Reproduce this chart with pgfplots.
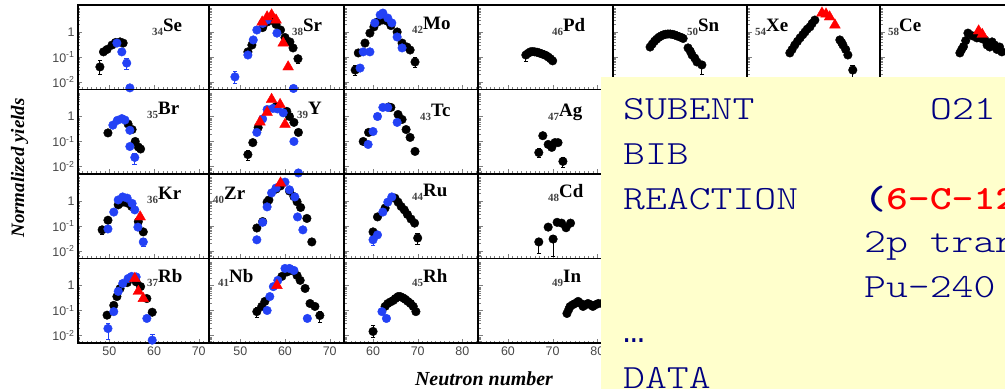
\documentclass[border=0pt]{standalone}
\usepackage{fontspec}
\setmainfont{Liberation Serif}
\newfontfamily\tickfont{Liberation Sans}
\newfontfamily\cour{lmmonolt10-regular.otf}[FakeStretch=1.23]
\newfontfamily\courb{lmmonolt10-bold.otf}[FakeStretch=1.23]
\newfontfamily\libmono{Liberation Mono}
\usepackage{pgfplots}
\pgfplotsset{compat=1.18}
\definecolor{ublue}{RGB}{35,65,245}
\definecolor{boxyellow}{RGB}{255,255,204}
\definecolor{navy}{RGB}{0,0,128}
\pgfplotsset{every axis/.append style={scale only axis, height=84.5bp, ymode=log, ymin=0.005, ymax=12,
    ytick={0.01,0.1,1},
    minor ytick={0.006,0.007,0.008,0.009,0.02,0.03,0.04,0.05,0.06,0.07,0.08,0.09,0.2,0.3,0.4,0.5,0.6,0.7,0.8,0.9,2,3,4,5,6,7,8,9},
    yticklabels={}, xticklabels={}, xtick distance=10,
    tick align=inside, xtick pos=bottom, ytick pos=left,
    axis line style={line width=1.3bp},
    major tick length=4.5bp, minor tick length=2.5bp,
    anchor=north west,
    tick label style={font=\tickfont\fontsize{12.5}{12.5}\selectfont, text=black!72},
  }}
\tikzset{
  zzblk/.style={only marks, mark=*, mark size=4.3bp, black},
  zzblu/.style={only marks, mark=*, mark size=4.3bp, ublue},
  zztri/.style={only marks, mark=triangle*, mark size=6.2bp, red},
}
\newcommand\ebar[4]{\addplot[#1, line width=0.9bp, mark=-, mark size=2.3bp, forget plot] coordinates {(#2,#3) (#2,#4)};}
\newcommand\nuc[4]{\node[anchor=base west, inner sep=0] at (#1bp,#2bp)
  {\bfseries{\fontsize{11}{11}\selectfont\color{black!75}\raisebox{-3.5bp}{#3}}\fontsize{19}{19}\selectfont #4};}
\begin{document}
\begin{tikzpicture}
\useasboundingbox (0,0) rectangle (1005bp,389bp);
% ---------------- Row 1 ----------------
\begin{axis}[width=131bp, xmin=43, xmax=72.3, minor xtick={44,...,72}, yticklabels={10\textsuperscript{-2},10\textsuperscript{-1},1}, at={(78bp,384bp)}]
\ebar{black}{47.9}{0.02}{0.07}
\ebar{ublue}{53.9}{0.032}{0.087}
\addplot[zzblk] coordinates {(47.9,0.04) (48.7,0.16) (49.5,0.2) (50.6,0.3) (51.4,0.38) (52.4,0.4) (53.1,0.36)};
\addplot[zzblu] coordinates {(51.7,0.36) (52.8,0.16) (53.9,0.057) (54.6,0.0058)};
\end{axis}
\begin{axis}[width=135bp, xmin=43, xmax=73.2, minor xtick={44,...,73}, at={(209bp,384bp)}]
\ebar{ublue}{48.8}{0.009}{0.026}
\ebar{black}{62.9}{0.055}{0.115}
\addplot[zzblk] coordinates {(51.7,0.16) (52.6,0.3) (55,1.5) (56,2.5) (57,3) (58,2) (59,1.2) (60,0.6) (61.1,0.4) (61.8,0.23) (62.9,0.085)};
\addplot[zzblu] coordinates {(48.8,0.016) (51.7,0.12) (52.9,0.48) (53.7,1.2) (55,2.2) (56,3) (58.2,0.9) (61.9,0.0055)};
\addplot[zztri] coordinates {(54.9,2.5) (56,4) (57,4.8) (58,3) (59.6,0.36) (60.7,0.04)};
\end{axis}
\begin{axis}[width=134bp, xmin=53.5, xmax=83.5, minor xtick={54,...,83}, at={(344bp,384bp)}]
\ebar{black}{56}{0.018}{0.045}
\ebar{black}{69.4}{0.038}{0.093}
\addplot[zzblk] coordinates {(56,0.03) (56.7,0.145) (58.2,0.36) (59.3,0.9) (60.2,1.6) (61,2.5) (62,3) (63,2.8) (64,1.8) (65.4,1) (66.5,0.36) (67.6,0.25) (68.3,0.19) (69.4,0.063)};
\addplot[zzblu] coordinates {(57.1,0.036) (57.8,0.16) (59.3,0.16) (60.4,2.3) (61.6,4.8) (62.2,5.7) (63.3,3.6) (64.2,2.3) (65.4,0.63) (66.5,0.23)};
\end{axis}
\begin{axis}[width=135bp, xmin=53.3, xmax=83.5, minor xtick={54,...,83}, at={(478bp,384bp)}]
\ebar{black}{64}{0.065}{0.12}
\addplot[zzblk] coordinates {(64,0.12) (64.5,0.14) (65,0.16) (65.5,0.165) (66,0.16) (66.5,0.155) (67,0.145) (67.5,0.135) (68,0.125) (68.5,0.115) (69,0.1) (69.5,0.085) (70,0.07)};
\end{axis}
\begin{axis}[width=134bp, xmin=63.5, xmax=93.5, minor xtick={64,...,93}, at={(613bp,384bp)}]
\ebar{black}{83.4}{0.02}{0.068}
\addplot[zzblk] coordinates {(71.8,0.25) (72.3,0.33) (72.8,0.43) (73.3,0.52) (73.8,0.62) (74.3,0.7) (74.8,0.77) (75.3,0.81) (75.8,0.83) (76.3,0.83) (76.8,0.8) (77.3,0.76) (77.8,0.7) (78.3,0.65) (78.8,0.6) (79.2,0.55) (80.3,0.23) (80.8,0.17) (81.2,0.12) (81.8,0.09) (82.3,0.063) (83.4,0.048)};
\end{axis}
\begin{axis}[width=133bp, xmin=73.5, xmax=103.3, minor xtick={74,...,103}, at={(747bp,384bp)}]
\ebar{black}{97.2}{0.01}{0.045}
\addplot[zzblk] coordinates {(83.1,0.145) (83.6,0.2) (84.2,0.3) (84.8,0.42) (85.4,0.58) (86,0.78) (86.5,1) (87,1.3) (87.6,1.6) (88.1,2.2) (88.7,3) (94.3,0.48) (94.7,0.38) (95,0.3) (95.6,0.2) (96.1,0.12) (97.2,0.03)};
\addplot[zztri] coordinates {(90.3,5.7) (91.2,5.2) (92,4) (93.2,1.9)};
\end{axis}
\begin{axis}[width=133bp, xmin=73.5, xmax=103.3, minor xtick={74,...,103}, at={(880bp,384bp)}]
\addplot[zzblk] coordinates {(91.4,0.145) (91.8,0.2) (92.2,0.26) (92.7,0.45) (93.2,0.9) (94.2,0.7) (95.2,0.58) (96.2,0.55) (97,0.48) (97.5,0.3) (98.1,0.25) (98.6,0.4) (99.2,0.3) (99.7,0.2) (100.3,0.25) (100.8,0.16)};
\addplot[zztri] coordinates {(95.6,1.1) (96.4,0.8)};
\end{axis}
% ---------------- Row 2 ----------------
\begin{axis}[width=131bp, xmin=43, xmax=72.3, minor xtick={44,...,72}, yticklabels={10\textsuperscript{-2},10\textsuperscript{-1},1}, at={(78bp,299.5bp)}]
\ebar{ublue}{55.7}{0.012}{0.033}
\addplot[zzblk] coordinates {(49.7,0.22) (54.2,0.5) (55.1,0.3) (55.8,0.1) (56.5,0.06) (57,0.05)};
\addplot[zzblu] coordinates {(50.8,0.45) (51.8,0.7) (52.8,0.82) (53.5,0.72) (54.6,0.28) (54.6,0.063) (55.7,0.023)};
\end{axis}
\begin{axis}[width=135bp, xmin=43, xmax=73.2, minor xtick={44,...,73}, at={(209bp,299.5bp)}]
\ebar{black}{51.7}{0.017}{0.045}
\addplot[zzblk] coordinates {(51.7,0.03) (52.8,0.09) (54,0.36) (58,2.5) (60.4,1.6) (61,1.0) (62,0.58) (63,0.23)};
\addplot[zzblu] coordinates {(53.7,0.23) (55,0.8) (56,1.9) (57.3,2.1) (58.3,2.0) (59.6,1.4) (62,0.1) (63,0.0055)};
\addplot[zztri] coordinates {(54.4,0.6) (56,1.45) (57,4.8) (58.9,3) (60,0.48)};
\end{axis}
\begin{axis}[width=134bp, xmin=53.5, xmax=83.5, minor xtick={54,...,83}, at={(344bp,299.5bp)}]
\addplot[zzblk] coordinates {(57.8,0.1) (59,0.23) (63.5,2.4) (64,2.3) (65.6,1.2) (66.5,0.76) (67.4,0.3) (68.3,0.145) (69.4,0.04)};
\addplot[zzblu] coordinates {(58.9,0.076) (60,0.25) (61,1) (62.2,2.3) (63.3,2.3) (65.4,0.58)};
\end{axis}
\begin{axis}[width=135bp, xmin=53.3, xmax=83.5, minor xtick={54,...,83}, at={(478bp,299.5bp)}]
\ebar{black}{66.9}{0.022}{0.051}
\ebar{black}{72.3}{0.009}{0.024}
\addplot[zzblk] coordinates {(66.9,0.036) (67.8,0.17) (69,0.076) (69.8,0.058) (70.5,0.09) (71.2,0.09) (72.3,0.016)};
\end{axis}
% ---------------- Row 3 ----------------
\begin{axis}[width=131bp, xmin=43, xmax=72.3, minor xtick={44,...,72}, yticklabels={10\textsuperscript{-2},10\textsuperscript{-1},1}, at={(78bp,215bp)}]
\ebar{black}{48.4}{0.045}{0.1}
\ebar{ublue}{57.6}{0.015}{0.033}
\addplot[zzblk] coordinates {(48.4,0.07) (49.7,0.17) (52,0.7) (53,0.9) (54,0.83) (55,0.6) (56.5,0.15) (57.6,0.058)};
\addplot[zzblu] coordinates {(49.7,0.076) (51,0.36) (52,1.1) (53,1.45) (54,1.3) (55.1,0.8) (55.7,0.44) (56.4,0.09) (57.6,0.023)};
\addplot[zztri] coordinates {(56.9,0.23)};
\end{axis}
\begin{axis}[width=135bp, xmin=43, xmax=73.2, minor xtick={44,...,73}, at={(209bp,215bp)}]
\addplot[zzblk] coordinates {(53.7,0.083) (55,0.15) (56,0.9) (56.4,1.1) (58,3) (59,4) (61,2.5) (62,1.5) (62.7,0.93) (63.5,0.55) (64.9,0.2) (66,0.023)};
\addplot[zzblu] coordinates {(53.7,0.028) (55,0.14) (56,0.58) (57,2.1) (58,3.3) (60,5.7) (61,2.8) (62.2,1.45) (62.8,0.23) (64,0.07)};
\addplot[zztri] coordinates {(59,5.2)};
\end{axis}
\begin{axis}[width=134bp, xmin=53.5, xmax=83.5, minor xtick={54,...,83}, at={(344bp,215bp)}]
\ebar{ublue}{60}{0.016}{0.04}
\ebar{black}{70}{0.019}{0.048}
\addplot[zzblk] coordinates {(60,0.058) (61,0.23) (62.7,0.52) (64.9,1.3) (65.6,0.9) (66.3,0.6) (67,0.44) (67.7,0.29) (68.5,0.19) (69.3,0.13) (70,0.033)};
\addplot[zzblu] coordinates {(60,0.028) (61,0.044) (62.2,0.36) (63.3,0.9) (64.2,1.45)};
\end{axis}
\begin{axis}[width=135bp, xmin=53.3, xmax=83.5, minor xtick={54,...,83}, at={(478bp,215bp)}]
\ebar{black}{66.9}{0.008}{0.033}
\ebar{black}{70.1}{0.006}{0.042}
\addplot[zzblk] coordinates {(66.9,0.023) (69,0.09) (70.1,0.03) (71,0.14) (72,0.13) (73,0.085) (74,0.13)};
\end{axis}
% ---------------- Row 4 ----------------
\begin{axis}[width=131bp, xmin=43, xmax=72.3, minor xtick={44,...,72}, yticklabels={10\textsuperscript{-2},10\textsuperscript{-1},1}, at={(78bp,130.5bp)}, xtick={50,60,70}, xticklabels={50,60,70}]
\ebar{ublue}{49.7}{0.007}{0.029}
\ebar{ublue}{59.6}{0.0045}{0.0105}
\addplot[zzblk] coordinates {(49.5,0.065) (51,0.16) (51.7,0.36) (52.4,0.75) (54,1.3) (56,1.4) (57,0.9) (58.4,0.3) (59.6,0.085)};
\addplot[zzblu] coordinates {(49.7,0.019) (51,0.09) (52,0.58) (53,1.2) (54.2,1.9) (55,2.3) (56,2.2) (58.4,0.048) (59.6,0.0065)};
\addplot[zztri] coordinates {(55.7,1.9) (56.5,0.58) (57.6,0.3)};
\end{axis}
\begin{axis}[width=135bp, xmin=43, xmax=73.2, minor xtick={44,...,73}, at={(209bp,130.5bp)}, xtick={50,60,70}, xticklabels={50,60,70}]
\ebar{black}{53.7}{0.055}{0.13}
\ebar{black}{67.8}{0.033}{0.093}
\addplot[zzblk] coordinates {(53.7,0.09) (54.8,0.145) (55.5,0.23) (59.3,2.3) (60.5,3.5) (61.5,4) (62.7,2.5) (63.4,1.6) (64.5,0.76) (65.6,0.19) (66.7,0.145) (67.8,0.063)};
\addplot[zzblu] coordinates {(56,0.1) (56.6,0.36) (57.4,0.9) (58.4,1.6) (60,4.8) (61,4.8) (62,4) (65,0.048)};
\addplot[zztri] coordinates {(58.2,1)};
\end{axis}
\begin{axis}[width=134bp, xmin=53.5, xmax=83.5, minor xtick={54,...,83}, at={(344bp,130.5bp)}, xtick={60,70,80}, xticklabels={60,70,80}]
\ebar{black}{60}{0.0085}{0.0245}
\addplot[zzblk] coordinates {(60,0.0145) (62.7,0.145) (63.3,0.19) (63.9,0.22) (64.5,0.25) (65,0.3) (65.6,0.36) (66.1,0.36) (66.7,0.32) (67.2,0.28) (67.8,0.23) (68.4,0.19) (69,0.145) (69.6,0.09)};
\addplot[zzblu] coordinates {(62,0.09) (63,0.048)};
\end{axis}
\begin{axis}[width=135bp, xmin=53.3, xmax=83.5, minor xtick={54,...,83}, at={(478bp,130.5bp)}, xtick={60,70,80}, xticklabels={60,70,80}]
\addplot[zzblk] coordinates {(73.2,0.076) (73.6,0.11) (73.9,0.145) (74.5,0.17) (75,0.19) (75.7,0.23) (76.3,0.19) (76.8,0.145) (77.4,0.17) (77.9,0.19) (78.5,0.17) (79,0.145) (79.6,0.17) (80.2,0.19) (81,0.19) (82,0.2)};
\end{axis}
% ---------------- nuclide labels ----------------
\nuc{152}{357}{34}{Se}
\nuc{292}{357}{38}{Sr}
\nuc{412}{359}{42}{Mo}
\nuc{552}{357}{46}{Pd}
\nuc{687}{357}{50}{Sn}
\nuc{755}{357}{54}{Xe}
\nuc{888}{357}{58}{Ce}
\nuc{147}{274}{35}{Br}
\nuc{297}{274}{39}{Y}
\nuc{420}{272}{43}{Tc}
\nuc{548}{272}{47}{Ag}
\nuc{147}{189}{36}{Kr}
\nuc{213}{189}{40}{Zr}
\nuc{412}{192}{44}{Ru}
\nuc{548}{191}{48}{Cd}
\nuc{147}{106}{37}{Rb}
\nuc{218}{106}{41}{Nb}
\nuc{412}{106}{45}{Rh}
\nuc{552}{106}{49}{In}
% ---------------- axis titles ----------------
\node[rotate=90, inner sep=0, font=\bfseries\itshape\fontsize{19}{19}\selectfont] at (19.5bp,221bp) {Normalized yields};
\node[anchor=base, inner sep=0, font=\bfseries\itshape\fontsize{20}{20}\selectfont] at (484bp,4bp) {Neutron number};
% ---------------- overlay box ----------------
\fill[boxyellow] (601bp,0bp) rectangle (1010bp,312bp);
\begin{scope}[every node/.style={anchor=base west, inner sep=0, text=navy, font=\cour\fontsize{34}{34}\selectfont}]
\node at (623bp,269bp) {SUBENT};
\node at (930bp,269bp) {O21};
\node at (623bp,224bp) {BIB};
\node at (623bp,179bp) {REACTION};
\node at (864bp,179bp) {\courb(\textcolor{red}{6-C-12}};
\node at (864bp,136bp) {2p tran};
\node at (864bp,91bp) {Pu-240};
\node at (623bp,46bp) {\libmono\fontsize{36}{36}\selectfont …};
\node at (623bp,1bp) {DATA};
\end{scope}
\end{tikzpicture}
\end{document}
